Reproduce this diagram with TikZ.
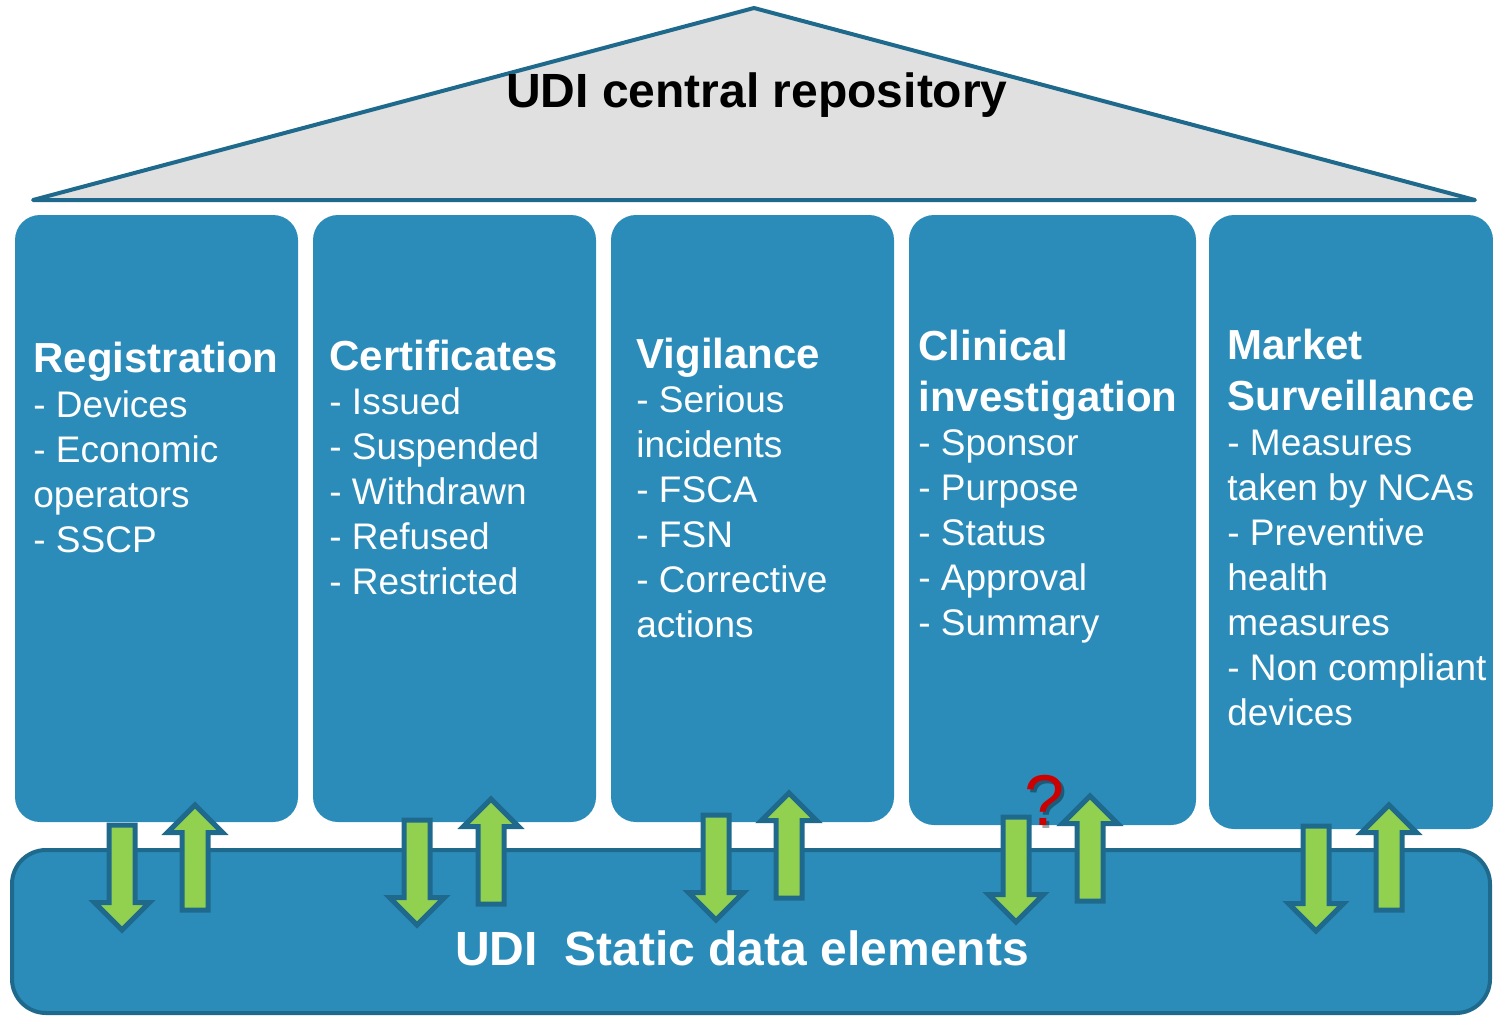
\documentclass[tikz,border=0pt]{standalone}
\usepackage{fontspec}
\setmainfont{Liberation Sans}
\usepackage{xcolor}
\usetikzlibrary{shapes.arrows}
\definecolor{udiblue}{HTML}{2B8CBA}
\definecolor{udidark}{HTML}{1F6A8C}
\definecolor{udigreen}{HTML}{92D050}
\definecolor{roofgray}{HTML}{E0E0E0}
\definecolor{qred}{HTML}{CC0000}
\tikzstyle{colbox} = [fill=udiblue, rounded corners=12.5pt]
\tikzstyle{coltitle} = [text=white, font=\fontsize{21}{25.5}\selectfont\bfseries,
align=left, inner sep=0pt, anchor=base west]
\tikzstyle{colitems} = [text=white, font=\fontsize{18.5}{22.5}\selectfont,
align=left, inner sep=0pt, anchor=base west]
\tikzstyle{bigtitle} = [font=\fontsize{24}{28}\selectfont\bfseries, inner sep=0pt, anchor=base]
\tikzstyle{udiarrow} = [single arrow, draw=udidark, fill=udigreen, line width=2.5pt,
inner sep=0pt, text height=10.5pt, text depth=0pt, minimum height=52.5pt,
single arrow head extend=7.25pt, single arrow tip angle=90, single arrow head indent=0pt]

\begin{document}
\begin{tikzpicture}[x=0.5pt,y=-0.5pt]
        \clip (0,0) rectangle (1493,1017);
        % roof
        \draw[fill=roofgray, draw=udidark, line width=2pt, line join=round]
            (33,200) -- (754,8) -- (1475,200) -- cycle;
        \node[bigtitle] (repo) at (757,107) {UDI central repository};
        % pillars
        \fill[colbox] (15,215) rectangle (298,822);
        \fill[colbox] (313,215) rectangle (596,822);
        \fill[colbox] (611,215) rectangle (894,822);
        \fill[colbox] (909,215) rectangle (1196,825);
        \fill[colbox] (1209,215) rectangle (1493,829);
        % base
        \draw[fill=udiblue, draw=udidark, line width=2pt, rounded corners=17pt]
            (12,850) rectangle (1490,1013);
        \node[bigtitle, text=white] (static) at (742,965) {UDI~~Static data elements};
        % pillar texts (base = last line)
        \node[coltitle] (regT) at (33,372) {Registration};
        \node[colitems] (regL) at (33,552) {- Devices\\- Economic\\operators\\- SSCP};
        \node[coltitle] (certT) at (329,370) {Certificates};
        \node[colitems] (certL) at (329,594) {- Issued\\- Suspended\\- Withdrawn\\- Refused\\- Restricted};
        \node[coltitle] (vigT) at (636,368) {Vigilance};
        \node[colitems] (vigL) at (636,637) {- Serious\\incidents\\- FSCA\\- FSN\\- Corrective\\actions};
        \node[coltitle] (clinT) at (918,411) {Clinical\\investigation};
        \node[colitems] (clinL) at (918,635) {- Sponsor\\- Purpose\\- Status\\- Approval\\- Summary};
        \node[coltitle] (markT) at (1227,410) {Market\\Surveillance};
        \node[colitems] (markL) at (1227,725) {- Measures\\taken by NCAs\\- Preventive\\health\\measures\\- Non compliant\\devices};
        % data flow arrows
        \node[udiarrow, rotate=-90] (regDown) at (122,871) {};
        \node[udiarrow, rotate=90] (regUp) at (195,864) {};
        \node[udiarrow, rotate=-90] (certDown) at (417,866) {};
        \node[udiarrow, rotate=90] (certUp) at (491,858) {};
        \node[udiarrow, rotate=-90] (vigDown) at (716,861) {};
        \node[udiarrow, rotate=90] (vigUp) at (789,852) {};
        \node[udiarrow, rotate=-90] (clinDown) at (1016,863) {};
        \node[udiarrow, rotate=90] (clinUp) at (1090,855) {};
        \node[udiarrow, rotate=-90] (markDown) at (1316,872) {};
        \node[udiarrow, rotate=90] (markUp) at (1389,864) {};
        \node[font=\fontsize{36}{40}\selectfont, text=black, opacity=.35] (qshade) at (1048,803) {?};
        \node[font=\fontsize{36}{40}\selectfont, text=qred] (qmark) at (1045,800) {?};
    \end{tikzpicture}
\end{document}
